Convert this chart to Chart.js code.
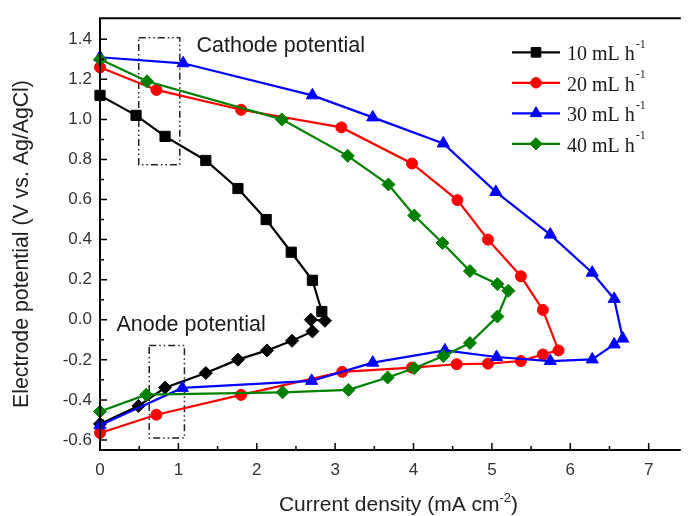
<!DOCTYPE html>
<html><head><meta charset="utf-8">
<script src="https://cdn.jsdelivr.net/npm/chart.js@4.4.1/dist/chart.umd.min.js"></script>
<style>html,body{margin:0;padding:0;background:#fff;overflow:hidden}#wrap{width:689px;height:516px}</style>
</head><body><div id="wrap"><canvas id="c" width="689" height="516"></canvas></div>
<script>
// ---- data ----
const xTicks = [0,1,2,3,4,5,6,7];
const xMinorTicks = [0.5,1.5,2.5,3.5,4.5,5.5,6.5];
const yTicks = [-0.6,-0.4,-0.2,0,0.2,0.4,0.6,0.8,1.0,1.2,1.4];
const yMinorTicks = [-0.5,-0.3,-0.1,0.1,0.3,0.5,0.7,0.9,1.1,1.3];

const labels = ['10 mL h', '20 mL h', '30 mL h', '40 mL h'];

const j10CathodeX = [0, 0.46, 0.83, 1.35, 1.76, 2.12, 2.44, 2.71, 2.83];
const e10CathodeY = [1.12, 1.02, 0.915, 0.795, 0.655, 0.50, 0.337, 0.197, 0.041];
const j10AnodeX = [2.87, 2.69, 2.71, 2.45, 2.13, 1.76, 1.35, 0.83, 0.49, 0];
const e10AnodeY = [-0.005, 0.0, -0.058, -0.105, -0.153, -0.199, -0.266, -0.339, -0.43, -0.52];

const j20X = [0, 0.72, 1.80, 3.08, 3.98, 4.56, 4.95, 5.37, 5.65, 5.85, 5.65, 5.37, 4.95, 4.55, 3.98, 3.09, 1.80, 0.72, 0];
const e20Y = [1.26, 1.147, 1.048, 0.96, 0.78, 0.597, 0.40, 0.217, 0.049, -0.153, -0.173, -0.206, -0.219, -0.222, -0.239, -0.26, -0.375, -0.474, -0.565];

const j30X = [0, 1.06, 2.71, 3.48, 4.38, 5.05, 5.745, 6.28, 6.56, 6.67, 6.56, 6.28, 5.745, 5.06, 4.40, 3.48, 2.70, 1.05, 0];
const e30Y = [1.31, 1.28, 1.12, 1.01, 0.88, 0.638, 0.425, 0.235, 0.104, -0.094, -0.123, -0.198, -0.206, -0.186, -0.153, -0.214, -0.305, -0.34, -0.527];

const j40X = [0, 0.60, 2.32, 3.16, 3.68, 4.01, 4.37, 4.72, 5.07, 5.21, 5.07, 4.72, 4.38, 4.01, 3.67, 3.17, 2.33, 0.59, 0];
const e40Y = [1.30, 1.19, 1.0, 0.818, 0.675, 0.52, 0.383, 0.243, 0.178, 0.145, 0.016, -0.116, -0.181, -0.242, -0.288, -0.35, -0.362, -0.374, -0.458];

// dash-dot boxes [xMin, xMax, yMin, yMax]
const cathodeBox = [0.494, 1.018, 0.773, 1.407];
const anodeBox = [0.628, 1.077, -0.59, -0.128];
const cathodeText = 'Cathode potential';
const cathodeTextPos = [1.231, 1.335];
const anodeText = 'Anode potential';
const anodeTextPos = [0.209, -0.055];

const xTitle = 'Current density (mA cm';
const xTitleSup = '-2';
const yTitle = 'Electrode potential (V vs. Ag/AgCl)';
const legendSup = '-1';

function pts(xs, ys){ return xs.map((x,i)=>({x:x, y:ys[i]})); }

const SANS = '"Liberation Sans", Arial, sans-serif';
const SERIF = '"Liberation Serif", "Times New Roman", serif';

const datasets = [
  {label: labels[0], data: pts(j10CathodeX, e10CathodeY), borderColor:'#000', backgroundColor:'#000', pointStyle:'rect', pointRadius:7.2, order:4},
  {label: labels[1], data: pts(j20X, e20Y), borderColor:'#ff0000', backgroundColor:'#ff0000', pointStyle:'circle', pointRadius:5.5, order:3},
  {label: labels[2], data: pts(j30X, e30Y), borderColor:'#0000ff', backgroundColor:'#0000ff', pointStyle:'triangle', pointRadius:7, order:2},
  {label: labels[3], data: pts(j40X, e40Y), borderColor:'#008000', backgroundColor:'#008000', pointStyle:'rectRot', pointRadius:6.5, order:1},
  {label: '10 mL h anode', data: pts(j10AnodeX, e10AnodeY), borderColor:'#000', backgroundColor:'#000', pointStyle:'rectRot', pointRadius:6.5, order:5}
];
datasets.forEach(d=>{ d.borderWidth=2.2; d.pointBorderWidth=1; d.showLine=true; d.tension=0; d.fill=false; d.pointHoverRadius=d.pointRadius; d.clip=false; });

const decor = {
  id:'decor',
  beforeDatasetsDraw(chart){
    const ctx=chart.ctx, xs=chart.scales.x, ys=chart.scales.y;
    ctx.save();
    ctx.strokeStyle='#222'; ctx.lineWidth=1.5;
    ctx.setLineDash([7,3,1.5,3,1.5,3]);
    [cathodeBox, anodeBox].forEach(b=>{
      const x0=xs.getPixelForValue(b[0]), x1=xs.getPixelForValue(b[1]);
      const y0=ys.getPixelForValue(b[2]), y1=ys.getPixelForValue(b[3]);
      ctx.strokeRect(x0, y1, x1-x0, y0-y1);
    });
    ctx.restore();
  },
  afterDraw(chart){
    const ctx=chart.ctx, xs=chart.scales.x, ys=chart.scales.y, a=chart.chartArea;
    ctx.save();
    // axes
    ctx.strokeStyle='#000'; ctx.lineWidth=2; ctx.setLineDash([]);
    ctx.beginPath();
    ctx.moveTo(a.left, a.top); ctx.lineTo(a.left, a.bottom);
    ctx.moveTo(a.left-1, a.bottom); ctx.lineTo(a.right, a.bottom);
    ctx.moveTo(a.left-1, a.top); ctx.lineTo(a.right, a.top);
    ctx.stroke();
    // ticks (inward)
    ctx.lineWidth=1.5;
    ctx.beginPath();
    xTicks.forEach(v=>{const p=xs.getPixelForValue(v); ctx.moveTo(p,a.bottom); ctx.lineTo(p,a.bottom-7);});
    xMinorTicks.forEach(v=>{const p=xs.getPixelForValue(v); ctx.moveTo(p,a.bottom); ctx.lineTo(p,a.bottom-4);});
    yTicks.forEach(v=>{const p=ys.getPixelForValue(v); ctx.moveTo(a.left,p); ctx.lineTo(a.left+7,p);});
    yMinorTicks.forEach(v=>{const p=ys.getPixelForValue(v); ctx.moveTo(a.left,p); ctx.lineTo(a.left+4,p);});
    ctx.stroke();
    // annotations
    ctx.fillStyle='#1a1a1a';
    ctx.font='21.5px '+SANS;
    ctx.textBaseline='alphabetic'; ctx.textAlign='left';
    ctx.fillText(cathodeText, xs.getPixelForValue(cathodeTextPos[0]), ys.getPixelForValue(cathodeTextPos[1]));
    ctx.fillText(anodeText, xs.getPixelForValue(anodeTextPos[0]), ys.getPixelForValue(anodeTextPos[1]));
    // axis titles
    ctx.fillStyle='#222';
    ctx.font='21px '+SANS;
    const w1=ctx.measureText(xTitle).width;
    ctx.font='13px '+SANS;
    const w2=ctx.measureText(xTitleSup).width;
    ctx.font='21px '+SANS;
    const w3=ctx.measureText(')').width;
    const cx=398.5, by=511;
    let sx=cx-(w1+w2+w3)/2;
    ctx.fillText(xTitle, sx, by); sx+=w1;
    ctx.font='13px '+SANS; ctx.fillText(xTitleSup, sx, by-9); sx+=w2;
    ctx.font='21px '+SANS; ctx.fillText(')', sx, by);
    ctx.save();
    ctx.translate(27.5, 244); ctx.rotate(-Math.PI/2);
    ctx.textAlign='center';
    ctx.font='21.3px '+SANS;
    ctx.fillText(yTitle, 0, 0);
    ctx.restore();
    // legend
    const rows=[52.3, 82.8, 113.3, 143.8];
    for(let i=0;i<4;i++){
      const d=chart.data.datasets[i], y=rows[i];
      ctx.strokeStyle=d.borderColor; ctx.fillStyle=d.backgroundColor; ctx.lineWidth=2.2;
      ctx.beginPath(); ctx.moveTo(512,y); ctx.lineTo(560,y); ctx.stroke();
      ctx.lineWidth=1;
      Chart.helpers.drawPoint(ctx,{pointStyle:d.pointStyle, radius:d.pointRadius*0.95, rotation:0, borderWidth:1}, 536, y);
      ctx.fillStyle='#1a1a1a';
      ctx.font='20px '+SERIF; ctx.textAlign='left';
      ctx.fillText(d.label, 567, y+7.7);
      const tw=ctx.measureText(d.label).width;
      ctx.font='12px '+SERIF;
      ctx.fillText(legendSup, 567+tw+1, y-4.5);
    }
    ctx.restore();
  }
};

new Chart(document.getElementById('c'), {
  type:'line',
  data:{datasets:datasets},
  options:{
    responsive:false, animation:false, events:[],
    layout:{padding:{top:13,right:0,left:0,bottom:0}},
    plugins:{legend:{display:false}, tooltip:{enabled:false}},
    scales:{
      x:{type:'linear', min:0, max:7.41,
        afterBuildTicks:s=>{s.ticks=xTicks.map(v=>({value:v}));},
        afterFit:s=>{s.height=66;},
        grid:{display:false, drawTicks:false}, border:{display:false},
        ticks:{padding:10, color:'#333', font:{family:SANS, size:17}, maxRotation:0, autoSkip:false, callback:v=>String(v)}
      },
      y:{type:'linear', min:-0.65, max:1.505,
        afterBuildTicks:s=>{s.ticks=yTicks.map(v=>({value:v}));},
        afterFit:s=>{s.width=100;},
        grid:{display:false, drawTicks:false}, border:{display:false},
        ticks:{padding:8, color:'#333', font:{family:SANS, size:17}, autoSkip:false, callback:v=>Number(v).toFixed(1)}
      }
    }
  },
  plugins:[decor]
});
</script>
</body></html>
